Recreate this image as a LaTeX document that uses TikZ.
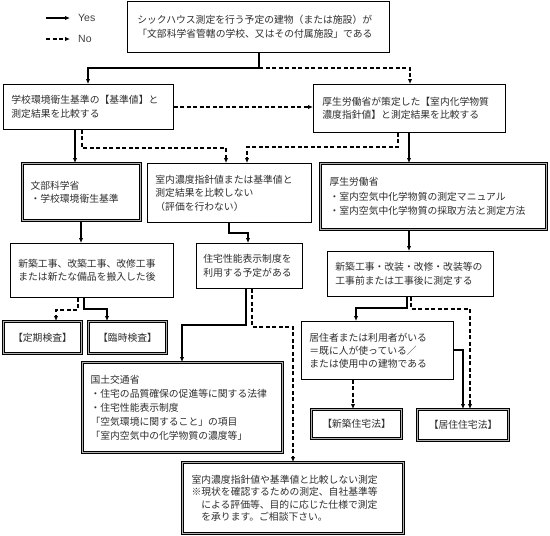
\documentclass[tikz,border=0pt]{standalone}
\usepackage{fontspec}
\setmainfont{Liberation Sans}
\newfontfamily\jp{Noto Sans CJK JP}
\usetikzlibrary{arrows.meta,calc}
\begin{document}
\begin{tikzpicture}[x=1pt,y=-1pt,
  every node/.style={font=\jp\fontsize{9.8}{13.5}\selectfont, text=black!82},
  box/.style={draw=black, line width=0.8pt, anchor=north west, align=left, inner ysep=0pt, inner xsep=8pt},
  dbl/.style={box, line width=1.1pt, double=gray!60, double distance=1.4pt},
  yes/.style={line width=1.4pt, -{Latex[length=5pt,width=4.5pt]}},
  no/.style={yes, dash pattern=on 4pt off 2.5pt},
  lat/.style={font=\rmfamily\fontsize{10.5}{12}\selectfont, text=black!75, anchor=west, inner sep=0pt}
]
\useasboundingbox (0,0) rectangle (550,536);
\fill[white] (0,0) rectangle (550,536);

% legend
\coordinate (ya) at (46,18); \coordinate (yb) at (70,18);
\coordinate (na) at (46,39); \coordinate (nb) at (70,39);
\draw[yes] (ya) -- (yb);
\draw[no] (na) -- (nb);
\node[lat] (yl) at (78,18) {Yes};
\node[lat] (nl) at (78,39) {No};

% boxes
\node[box, minimum width=262pt, minimum height=51pt, text width=242pt, inner xsep=10pt] (top) at (127,1)
  {シックハウス測定を行う予定の建物（または施設）が\\「文部科学省管轄の学校、又はその付属施設」である};
\node[box, minimum width=170pt, minimum height=45pt, text width=154pt] (L1) at (3,84)
  {学校環境衛生基準の【基準値】と\\測定結果を比較する};
\node[box, minimum width=192pt, minimum height=48pt, text width=174pt, inner xsep=9pt] (R1) at (313,84)
  {厚生労働省が策定した【室内化学物質\\濃度指針値】と測定結果を比較する};
\node[box, minimum width=164pt, minimum height=59pt, text width=148pt] (M1) at (147,163)
  {室内濃度指針値または基準値と\\測定結果を比較しない\\（評価を行わない）};
\node[dbl, minimum width=118pt, minimum height=57pt, text width=102pt] (MEXT) at (22,163)
  {文部科学省\\・学校環境衛生基準};
\node[dbl, minimum width=226pt, minimum height=66pt, text width=208pt, inner xsep=9pt, font=\jp\fontsize{9.8}{14.5}\selectfont] (MHLW) at (320,163)
  {厚生労働省\\・室内空気中化学物質の測定マニュアル\\・室内空気中化学物質の採取方法と測定方法};
\node[box, minimum width=163pt, minimum height=54pt, text width=147pt] (L2) at (10,243)
  {新築工事、改築工事、改修工事\\または新たな備品を搬入した後};
\node[box, minimum width=106pt, minimum height=45pt, text width=92pt, inner xsep=7pt] (H1) at (196,243)
  {住宅性能表示制度を\\利用する予定がある};
\node[box, minimum width=166pt, minimum height=45pt, text width=150pt] (R2) at (327,251)
  {新築工事・改装・改修・改装等の\\工事前または工事後に測定する};
\node[dbl, minimum width=78pt, minimum height=32pt, text width=66pt, inner xsep=6pt, align=center] (K1) at (3,321)
  {【定期検査】};
\node[dbl, minimum width=78pt, minimum height=32pt, text width=66pt, inner xsep=6pt, align=center] (K2) at (88,321)
  {【臨時検査】};
\node[box, minimum width=152pt, minimum height=58pt, text width=136pt, font=\jp\fontsize{9.8}{13}\selectfont] (R3) at (301,321)
  {居住者または利用者がいる\\＝既に人が使っている／\\または使用中の建物である};
\node[dbl, minimum width=90pt, minimum height=29pt, text width=78pt, inner xsep=6pt, align=center] (J1) at (311,409)
  {【新築住宅法】};
\node[dbl, minimum width=91pt, minimum height=31pt, text width=79pt, inner xsep=6pt, align=center] (J2) at (417,409)
  {【居住住宅法】};
\node[dbl, minimum width=200pt, minimum height=90pt, text width=184pt, font=\jp\fontsize{9.8}{14}\selectfont] (MLIT) at (82,362)
  {国土交通省\\・住宅の品質確保の促進等に関する法律\\・住宅性能表示制度\\「空気環境に関すること」の項目\\「室内空気中の化学物質の濃度等」};
\node[dbl, minimum width=221pt, minimum height=71pt, text width=203pt, inner xsep=9pt, font=\jp\fontsize{9.8}{12.5}\selectfont] (F) at (182,462)
  {室内濃度指針値や基準値と比較しない測定\\※現状を確認するための測定、自社基準等\\　による評価等、目的に応じた仕様で測定\\　を承ります。ご相談下さい。};

% connectors
\coordinate (j1) at (259,68);
\draw[yes] (top.south -| j1) -- (j1) -| (L1.north -| 88,0);
\draw[no] (j1) -| (R1.north -| 410,0);
\draw[no] (L1.east |- 0,107) -- (R1.west |- 0,107);
\draw[yes] (L1.south -| 75,0) -- (MEXT.north -| 75,0);
\draw[no] (L1.south -| 82,0) -- (82,148) -| (M1.north -| 226,0);
\draw[no] (R1.south -| 398,0) -- (398,147) -| (M1.north -| 247,0);
\draw[yes] (R1.south -| 409,0) -- (MHLW.north -| 409,0);
\draw[yes] (MEXT.south -| 81,0) -- (L2.north -| 81,0);
\draw[yes] (M1.south -| 229,0) -- (229,233) -| (H1.north -| 248,0);
\draw[yes] (MHLW.south -| 409,0) -- (R2.north -| 409,0);
\draw[no] (L2.south -| 78,0) -- (78,310) -| (K1.north -| 56,0);
\draw[yes] (L2.south -| 84,0) -- (84,309) -| (K2.north -| 107,0);
\draw[yes] (H1.south -| 246,0) -- (246,325) -| (MLIT.north -| 182,0);
\draw[no] (H1.south -| 252,0) -- (252,327) -| (F.north -| 293,0);
\draw[yes] (R2.south -| 407,0) -- (407,308) -| (R3.north -| 356,0);
\draw[no] (R2.south -| 411,0) -- (411,309) -| (J2.north -| 470,0);
\draw[no] (R3.south -| 353,0) -- (J1.north -| 353,0);
\draw[yes] (R3.east |- 0,350) -| (J2.north -| 463,0);
\end{tikzpicture}
\end{document}
